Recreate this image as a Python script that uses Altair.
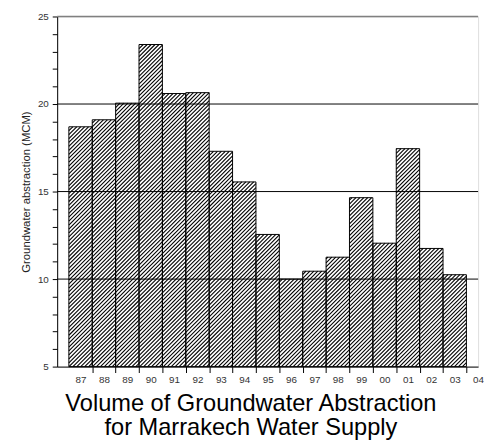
import math
import altair as alt
import pandas as pd

# ---- data ----
year_labels = ["87", "88", "89", "90", "91", "92", "93", "94", "95", "96",
               "97", "98", "99", "00", "01", "02", "03", "04"]
abstraction = [18.7, 19.1, 20.05, 23.4, 20.6, 20.65, 17.3, 15.55, 12.55, 10.0,
               10.45, 11.25, 14.65, 12.05, 17.45, 11.75, 10.25]
grid_values = [10, 15, 20]
top_value = [25]

# ---- layout ----
W, H = 428, 356
X_MIN, X_MAX = 86, 104
Y_MIN, Y_MAX = 5, 25
FONT = "Liberation Sans"

positions = [87 + i for i in range(len(year_labels))]
bars = pd.DataFrame({
    "label": year_labels[:len(abstraction)],
    "pos": positions[:len(abstraction)],
    "value": abstraction,
})
bars["x0"] = bars["pos"] - 0.5
bars["x1"] = bars["pos"] + 0.5
bars["base"] = Y_MIN

# hatch segments ("////") clipped to each bar, computed in data space
px_x = W / (X_MAX - X_MIN)
px_y = H / (Y_MAX - Y_MIN)
spacing = 4.0
segs = []
for _, r in bars.iterrows():
    a = (r["x0"] - X_MIN) * px_x
    b = (r["x1"] - X_MIN) * px_x
    h = (r["value"] - Y_MIN) * px_y
    kmin = math.floor((a - h) / spacing)
    kmax = math.ceil(b / spacing)
    for k in range(kmin, kmax + 1):
        c = k * spacing
        u0 = max(a, c)
        u1 = min(b, c + h)
        if u1 - u0 > 0.3:
            segs.append({
                "hx": X_MIN + u0 / px_x, "hy": Y_MIN + (u0 - c) / px_y,
                "hx2": X_MIN + u1 / px_x, "hy2": Y_MIN + (u1 - c) / px_y,
            })
hatch = pd.DataFrame(segs)

label_array = "[" + ",".join("'%s'" % s for s in year_labels) + "]"

xscale = alt.Scale(domain=[X_MIN, X_MAX], nice=False, zero=False)
yscale = alt.Scale(domain=[Y_MIN, Y_MAX], nice=False, zero=False)

xaxis = alt.Axis(
    values=positions, labelExpr=label_array + "[datum.value - 87]",
    title=None, grid=False, tickSize=6, tickColor="black", tickWidth=1,
    tickOffset=px_x / 2, labelOffset=-px_x / 2,
    tickOpacity={"condition": {"test": "datum.value >= 104", "value": 0}, "value": 1},
    domainColor="black", domainWidth=1, labelFont=FONT, labelFontSize=10,
    labelColor="#333", labelPadding=2, labelFlush=False, labelOverlap=False,
    labelBound=False,
)
yaxis = alt.Axis(
    values=list(range(Y_MIN, Y_MAX + 1)),
    labelExpr="datum.value % 5 == 0 ? datum.value : ''",
    title="Groundwater abstraction (MCM)", titleFont=FONT, titleFontSize=11.5,
    titleFontWeight="normal", titleColor="#222", titlePadding=6,
    grid=False, tickSize=5, tickColor="black", domainColor="black",
    labelFont=FONT, labelFontSize=10, labelColor="#333", labelPadding=4,
    labelFlush=False, labelOverlap=False,
)


def X(field):
    return alt.X(field, type="quantitative", scale=xscale, axis=xaxis)


def Y(field):
    return alt.Y(field, type="quantitative", scale=yscale, axis=yaxis)


hatch_layer = alt.Chart(hatch).mark_rule(color="black", strokeWidth=1.1).encode(
    x=X("hx"), y=Y("hy"), x2="hx2", y2="hy2"
)

outline_layer = alt.Chart(bars).mark_rect(
    fill="transparent", stroke="black", strokeWidth=1
).encode(x=X("x0"), x2="x1", y=Y("value"), y2="base")

grid_layer = alt.Chart(pd.DataFrame({"g": grid_values})).mark_rule(
    color="black", strokeWidth=1
).encode(y=Y("g"))

top_layer = alt.Chart(pd.DataFrame({"t": top_value})).mark_rule(
    color="#808080", strokeWidth=1.3
).encode(y=Y("t"))

chart = alt.layer(hatch_layer, outline_layer, grid_layer, top_layer).properties(
    width=W, height=H,
    autosize=alt.AutoSizeParams(type="none"),
    padding={"left": 50, "top": 5, "right": 6, "bottom": 72},
    title=alt.TitleParams(
        text=["Volume of Groundwater Abstraction", "for Marrakech Water Supply"],
        orient="bottom", anchor="middle", font=FONT, fontSize=24,
        fontWeight="normal", color="black", offset=8, dx=-17, lineHeight=25,
    ),
).configure_view(stroke=None).configure(font=FONT, background="white")

chart.save("out.html", embed_options={"renderer": "svg", "actions": False})
